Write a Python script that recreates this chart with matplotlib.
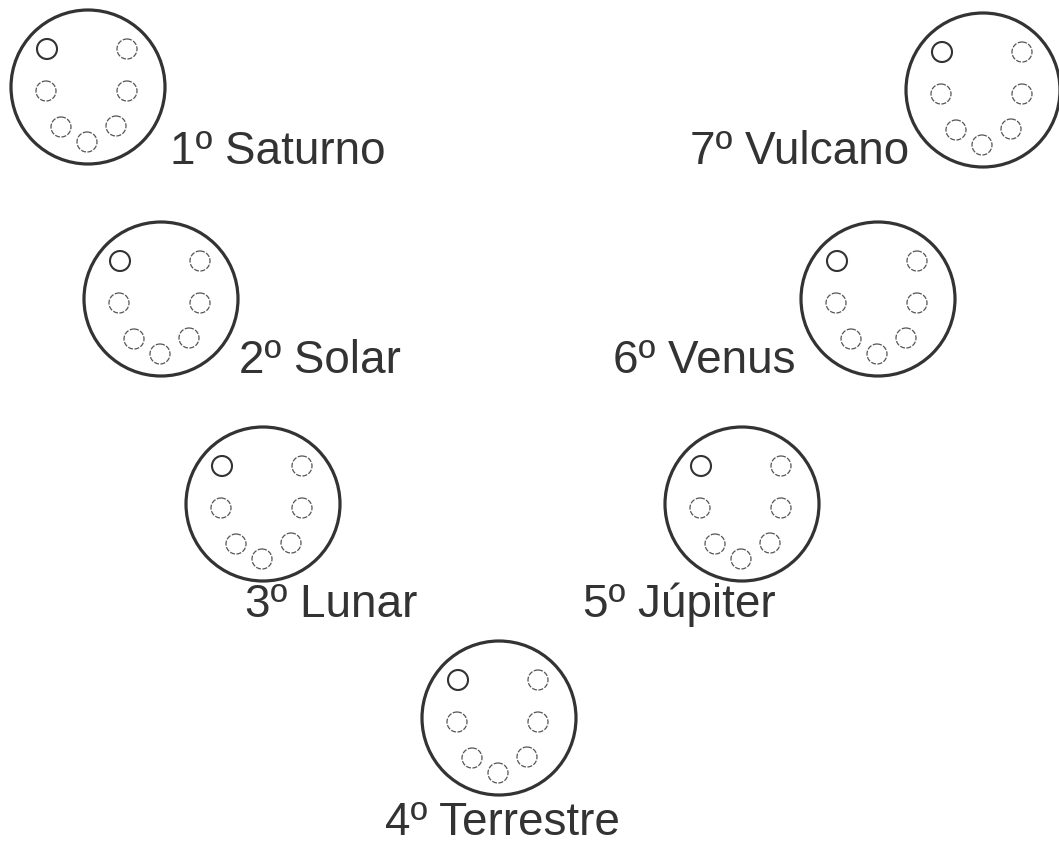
import matplotlib
matplotlib.use("Agg")
import matplotlib.pyplot as plt
from matplotlib.patches import Circle

# seven planet plates: label, big circle centre (px), label anchor (px, baseline)
names = ["1º Saturno", "2º Solar", "3º Lunar", "4º Terrestre",
         "5º Júpiter", "6º Venus", "7º Vulcano"]
cx = [88, 161, 263, 499, 742, 878, 983]
cy = [88, 300, 505, 719, 505, 300, 91]
label_x = [170, 239, 245, 385, 583, 613, 690]
label_y = [164, 373, 617, 835, 617, 373, 164]

# holes inside each plate, offset from centre
hole_dx = [-41, 39, -42, 39, -27, -1, 28]
hole_dy = [-38, -38, 4, 4, 40, 55, 39]

R_BIG = 77
R_HOLE = 10

fig = plt.figure(figsize=(10.59, 8.45), dpi=100)
ax = fig.add_axes([0, 0, 1, 1])
ax.set_xlim(0, 1059)
ax.set_ylim(845, 0)
ax.set_aspect("equal")
ax.axis("off")

for i in range(len(names)):
    ax.add_patch(Circle((cx[i], cy[i]), R_BIG, fill=False,
                        edgecolor="#333333", linewidth=2.3))
    for k in range(len(hole_dx)):
        if k == 0:
            ax.add_patch(Circle((cx[i] + hole_dx[k], cy[i] + hole_dy[k]), R_HOLE,
                                fill=False, edgecolor="#333333", linewidth=1.5))
        else:
            ax.add_patch(Circle((cx[i] + hole_dx[k], cy[i] + hole_dy[k]), R_HOLE,
                                fill=False, edgecolor="#555555", linewidth=0.9,
                                linestyle=(0, (4, 1.2))))
    ax.text(label_x[i], label_y[i], names[i], fontsize=33,
            family="Liberation Sans", color="#333333",
            ha="left", va="baseline")

fig.savefig("out.png", dpi=100, facecolor="white")
